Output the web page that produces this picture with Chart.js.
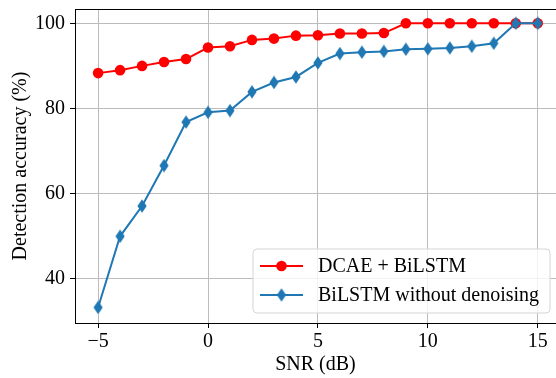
<!DOCTYPE html>
<html>
<head>
<meta charset="utf-8">
<script src="https://cdn.jsdelivr.net/npm/chart.js@4.4.1/dist/chart.umd.min.js"></script>
<style>
  html, body { margin: 0; padding: 0; background: #fff; }
  #wrap { width: 556px; height: 378px; }
</style>
</head>
<body>
<div id="wrap"><canvas id="chart" width="556" height="378"></canvas></div>
<script>
// SNR steps (dB) and accuracy for both models
const snr = [-5, -4, -3, -2, -1, 0, 1, 2, 3, 4, 5, 6, 7, 8, 9, 10, 11, 12, 13, 14, 15];
const dcaeBilstm = [88.3, 89.0, 90.0, 90.9, 91.6, 94.3, 94.6, 96.1, 96.4, 97.1, 97.2, 97.6, 97.6, 97.7, 100, 100, 100, 100, 100, 100, 100];
const bilstmOnly = [33.3, 50.0, 57.1, 66.6, 76.8, 79.1, 79.5, 83.9, 86.1, 87.4, 90.7, 92.9, 93.2, 93.4, 93.9, 94.0, 94.2, 94.6, 95.3, 100, 100];
const xTicks = [-5, 0, 5, 10, 15];
const yTicks = [40, 60, 80, 100];

const FONT = "'Liberation Serif', 'Times New Roman', serif";
const FS = 20;
const RED = '#ff0000';
const BLUE = '#1f77b4';
const GRID = '#bcbcbc';

// thin diamond marker like matplotlib's 'd'
function thinDiamond(color) {
  const c = document.createElement('canvas');
  c.width = 10; c.height = 14;
  const g = c.getContext('2d');
  g.fillStyle = color;
  g.beginPath();
  g.moveTo(5, 0.3);
  g.lineTo(9.6, 7);
  g.lineTo(5, 13.7);
  g.lineTo(0.4, 7);
  g.closePath();
  g.fill();
  return c;
}
const diamond = thinDiamond(BLUE);

const dsRed = {
  label: 'DCAE + BiLSTM',
  data: snr.map((x, i) => ({x: x, y: dcaeBilstm[i]})),
  borderColor: RED,
  backgroundColor: RED,
  borderWidth: 2,
  pointRadius: 5.3,
  pointStyle: 'circle',
  pointBorderWidth: 0,
  order: 1
};
const dsBlue = {
  label: 'BiLSTM without denoising',
  data: snr.map((x, i) => ({x: x, y: bilstmOnly[i]})),
  borderColor: BLUE,
  backgroundColor: BLUE,
  borderWidth: 2,
  pointStyle: diamond,
  pointRadius: 6,
  order: 0
};

function minus(v) {
  return v < 0 ? '\u2212' + Math.abs(v) : String(v);
}

// top spine and the boxed legend
const extras = {
  id: 'extras',
  afterDraw(chart) {
    const ctx = chart.ctx;
    const a = chart.chartArea;
    ctx.save();
    ctx.strokeStyle = '#000';
    ctx.lineWidth = 1;
    ctx.beginPath();
    ctx.moveTo(a.left, a.top + 0.5);
    ctx.lineTo(a.right, a.top + 0.5);
    ctx.stroke();

    // legend box
    const bx = 253, by = 249, bw = 297, bh = 64, r = 4;
    ctx.beginPath();
    ctx.moveTo(bx + r, by);
    ctx.arcTo(bx + bw, by, bx + bw, by + bh, r);
    ctx.arcTo(bx + bw, by + bh, bx, by + bh, r);
    ctx.arcTo(bx, by + bh, bx, by, r);
    ctx.arcTo(bx, by, bx + bw, by, r);
    ctx.closePath();
    ctx.fillStyle = 'rgba(255,255,255,0.8)';
    ctx.fill();
    ctx.strokeStyle = '#d5d5d5';
    ctx.stroke();

    const rows = [{ds: dsRed, y: 266}, {ds: dsBlue, y: 295}];
    rows.forEach(row => {
      ctx.strokeStyle = row.ds.borderColor;
      ctx.lineWidth = 2;
      ctx.beginPath();
      ctx.moveTo(260, row.y);
      ctx.lineTo(303, row.y);
      ctx.stroke();
      if (row.ds.pointStyle === 'circle') {
        ctx.fillStyle = row.ds.backgroundColor;
        ctx.beginPath();
        ctx.arc(281.5, row.y, 5.3, 0, Math.PI * 2);
        ctx.fill();
      } else {
        ctx.drawImage(row.ds.pointStyle, 281.5 - 5, row.y - 7);
      }
      ctx.fillStyle = '#000';
      ctx.font = FS + 'px ' + FONT;
      ctx.textBaseline = 'middle';
      ctx.fillText(row.ds.label, 318, row.y + 1);
    });
    ctx.restore();
  }
};

new Chart(document.getElementById('chart'), {
  type: 'line',
  data: { datasets: [dsRed, dsBlue] },
  plugins: [extras],
  options: {
    responsive: false,
    animation: false,
    layout: { autoPadding: false, padding: { top: 9, right: 0, bottom: 0, left: 0 } },
    plugins: { legend: { display: false }, tooltip: { enabled: false } },
    scales: {
      x: {
        type: 'linear',
        min: -6.05,
        max: 15.83,
        afterFit(s) { s.height = 55; s.paddingLeft = 0; s.paddingRight = 0; },
        afterBuildTicks(s) { s.ticks = xTicks.map(v => ({value: v})); },
        ticks: {
          color: '#000',
          font: { family: FONT, size: FS },
          padding: 2,
          maxRotation: 0,
          callback: v => minus(v)
        },
        grid: { color: GRID, lineWidth: 1, tickColor: '#000', tickLength: 5 },
        border: { color: '#000', width: 1 },
        title: {
          display: true,
          text: 'SNR (dB)',
          color: '#000',
          font: { family: FONT, size: FS },
          padding: { top: 0, bottom: 1 }
        }
      },
      y: {
        min: 29.65,
        max: 103.35,
        afterFit(s) { s.width = 75; s.paddingTop = 0; s.paddingBottom = 0; },
        afterBuildTicks(s) { s.ticks = yTicks.map(v => ({value: v})); },
        ticks: {
          color: '#000',
          font: { family: FONT, size: FS },
          padding: 5
        },
        grid: { color: GRID, lineWidth: 1, tickColor: '#000', tickLength: 5 },
        border: { color: '#000', width: 1 },
        title: {
          display: true,
          text: 'Detection accuracy (%)',
          color: '#000',
          font: { family: FONT, size: FS },
          padding: { top: 9, bottom: 0 }
        }
      }
    }
  }
});
</script>
</body>
</html>
